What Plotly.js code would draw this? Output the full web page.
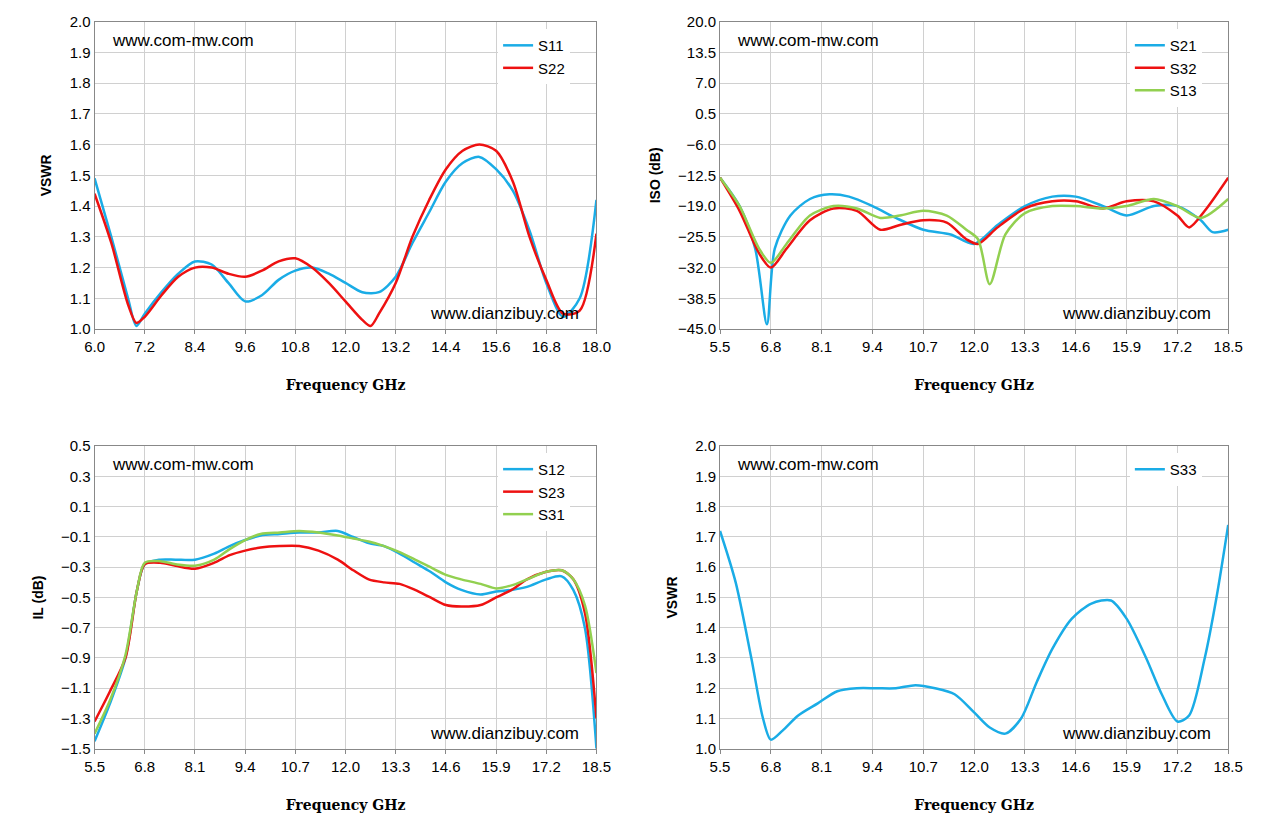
<!DOCTYPE html>
<html><head><meta charset="utf-8">
<script src="https://cdn.plot.ly/plotly-3.0.1.min.js"></script>
<style>body{margin:0}#myDiv{width:1261px;height:831px}</style>
</head><body><div id="myDiv"></div>
<script>
// panel 1: VSWR 6-18 GHz
var f1 = [6.0,6.4,6.8,7.0,7.2,7.6,8.0,8.4,8.8,9.2,9.6,10.0,10.4,10.8,11.2,11.6,12.0,12.4,12.8,13.2,13.6,14.0,14.4,14.8,15.2,15.6,16.0,16.4,16.8,17.2,17.6,18.0];
var s11 = [1.49,1.30,1.10,1.01,1.05,1.12,1.18,1.22,1.21,1.15,1.09,1.11,1.16,1.19,1.20,1.18,1.15,1.12,1.12,1.17,1.28,1.38,1.48,1.54,1.56,1.52,1.45,1.32,1.15,1.04,1.10,1.42];
var f22 = [6.0,6.4,6.8,7.0,7.2,7.6,8.0,8.4,8.8,9.2,9.6,10.0,10.4,10.8,11.2,11.6,12.0,12.4,12.6,12.8,13.2,13.6,14.0,14.4,14.8,15.2,15.6,16.0,16.4,16.8,17.2,17.6,18.0];
var s22 = [1.44,1.28,1.08,1.02,1.04,1.11,1.17,1.20,1.20,1.18,1.17,1.19,1.22,1.23,1.20,1.15,1.09,1.03,1.01,1.05,1.15,1.30,1.42,1.52,1.58,1.60,1.58,1.48,1.30,1.16,1.05,1.06,1.31];
// panel 2: isolation
var fs21 = [5.5,6.0,6.4,6.7,6.9,7.3,7.8,8.3,8.8,9.4,10.0,10.7,11.4,12.0,12.6,13.3,14.0,14.6,15.3,15.9,16.6,17.2,17.8,18.1,18.5];
var s21 = [-13,-19,-28,-44,-28,-21,-17.5,-16.5,-17,-19,-21.5,-24,-25,-27,-23,-19,-17,-17,-19,-21,-19,-19,-22,-24.5,-24];
var fs32 = [5.5,6.0,6.5,6.8,7.2,7.8,8.4,9.0,9.6,10.1,10.7,11.3,11.8,12.1,12.6,13.3,14.0,14.6,15.3,15.9,16.6,17.2,17.5,17.9,18.5];
var s32 = [-13,-20,-29,-32,-28,-22,-19.5,-20,-24,-23,-22,-22.5,-26,-27,-23.5,-19.5,-18,-18,-19.5,-18,-18,-21,-23.5,-20,-13];
var fs13 = [5.5,6.0,6.5,6.8,7.2,7.8,8.4,9.0,9.6,10.1,10.7,11.3,11.8,12.1,12.4,12.8,13.3,14.0,14.6,15.3,15.9,16.6,17.2,17.8,18.5];
var s13 = [-13,-19,-28,-31,-27,-21,-19,-19.5,-21.5,-21,-20,-21,-24,-26,-35.5,-25,-20.5,-19,-19,-19.5,-19,-17.5,-19,-21.5,-17.5];
// panel 3: insertion loss
var f3 = [5.5,5.9,6.3,6.6,6.8,7.2,7.6,8.1,8.6,9.0,9.4,9.8,10.3,10.8,11.3,11.8,12.2,12.6,13.0,13.4,13.8,14.2,14.6,15.0,15.5,15.9,16.3,16.7,17.2,17.6,17.9,18.2,18.5];
var s12 = [-1.45,-1.2,-0.9,-0.45,-0.28,-0.25,-0.25,-0.25,-0.21,-0.16,-0.12,-0.09,-0.08,-0.07,-0.07,-0.06,-0.1,-0.14,-0.16,-0.21,-0.27,-0.33,-0.4,-0.45,-0.48,-0.46,-0.45,-0.43,-0.38,-0.36,-0.45,-0.7,-1.5];
var s23 = [-1.32,-1.12,-0.9,-0.45,-0.28,-0.27,-0.29,-0.31,-0.27,-0.22,-0.19,-0.17,-0.16,-0.16,-0.19,-0.25,-0.32,-0.38,-0.4,-0.41,-0.45,-0.5,-0.55,-0.56,-0.55,-0.5,-0.45,-0.38,-0.33,-0.32,-0.38,-0.6,-1.3];
var s31 = [-1.4,-1.18,-0.88,-0.45,-0.27,-0.26,-0.28,-0.29,-0.25,-0.18,-0.12,-0.08,-0.07,-0.06,-0.07,-0.09,-0.11,-0.13,-0.16,-0.2,-0.25,-0.3,-0.35,-0.38,-0.41,-0.44,-0.42,-0.38,-0.33,-0.32,-0.38,-0.55,-1.0];
// panel 4: S33
var f4 = [5.5,5.9,6.3,6.6,6.8,7.1,7.5,8.0,8.5,9.0,9.5,10.0,10.5,11.0,11.5,12.0,12.4,12.8,13.2,13.6,14.0,14.5,15.0,15.5,15.9,16.4,16.8,17.2,17.5,17.9,18.2,18.5];
var s33 = [1.72,1.55,1.3,1.1,1.03,1.06,1.11,1.15,1.19,1.2,1.2,1.2,1.21,1.2,1.18,1.12,1.07,1.05,1.1,1.22,1.33,1.43,1.48,1.49,1.43,1.3,1.18,1.09,1.11,1.3,1.5,1.74];

var BLUE = '#1aace6', RED = '#ee1111', GREEN = '#92d050';
function tr(x, y, name, color, xa, ya, lg) {
  return {x: x, y: y, name: name, type: 'scatter', mode: 'lines', line: {color: color, width: 2.5, shape: 'spline', smoothing: 0.8},
          xaxis: xa, yaxis: ya, legend: lg};
}
var data = [
  tr(f1, s11, 'S11', BLUE, 'x', 'y', 'legend'),
  tr(f22, s22, 'S22', RED, 'x', 'y', 'legend'),
  tr(fs21, s21, 'S21', BLUE, 'x2', 'y2', 'legend2'),
  tr(fs32, s32, 'S32', RED, 'x2', 'y2', 'legend2'),
  tr(fs13, s13, 'S13', GREEN, 'x2', 'y2', 'legend2'),
  tr(f3, s12, 'S12', BLUE, 'x3', 'y3', 'legend3'),
  tr(f3, s23, 'S23', RED, 'x3', 'y3', 'legend3'),
  tr(f3, s31, 'S31', GREEN, 'x3', 'y3', 'legend3'),
  tr(f4, s33, 'S33', BLUE, 'x4', 'y4', 'legend4')
];

function xax(dom, anchor, r, d) {
  return {domain: dom, anchor: anchor, range: r, tick0: r[0], dtick: d, showgrid: true, gridcolor: '#d0d0d0',
          showline: true, linecolor: '#888', mirror: true, ticks: 'outside', ticklen: 4, tickcolor: '#888',
          tickformat: '.1f', zeroline: false,
          title: {text: 'Frequency GHz', font: {family: 'DejaVu Serif', size: 14, weight: 'bold'}, standoff: 26}};
}
function yax(dom, anchor, r, d, t) {
  return {domain: dom, anchor: anchor, range: r, tick0: r[0], dtick: d, showgrid: true, gridcolor: '#d0d0d0',
          showline: true, linecolor: '#888', mirror: true, zeroline: false, tickformat: '.1f',
          title: {text: t, font: {size: 14, weight: 'bold'}, standoff: 14}};
}
var X1 = [0.075, 0.473], X2 = [0.571, 0.974], Y1 = [0.604, 0.974], Y2 = [0.099, 0.463];
function lg(x, y) {
  return {x: x, y: y, xanchor: 'left', yanchor: 'top', bgcolor: 'white', font: {size: 15}, tracegroupgap: 4};
}
function note(xr, yr, x, y, t, xa) {
  return {xref: xr, yref: yr, x: x, y: y, text: t, showarrow: false, xanchor: xa, yanchor: 'middle', font: {size: 17}};
}
var layout = {
  width: 1261, height: 831, margin: {l: 0, r: 0, t: 0, b: 0},
  paper_bgcolor: 'white', plot_bgcolor: 'white',
  font: {family: 'Liberation Sans, Arial', size: 15, color: '#000'},
  xaxis: xax(X1, 'y', [6, 18], 1.2),
  yaxis: yax(Y1, 'x', [1, 2], 0.1, 'VSWR'),
  xaxis2: xax(X2, 'y2', [5.5, 18.5], 1.3),
  yaxis2: yax(Y1, 'x2', [-45, 20], 6.5, 'ISO (dB)'),
  xaxis3: xax(X1, 'y3', [5.5, 18.5], 1.3),
  yaxis3: yax(Y2, 'x3', [-1.5, 0.5], 0.2, 'IL (dB)'),
  xaxis4: xax(X2, 'y4', [5.5, 18.5], 1.3),
  yaxis4: yax(Y2, 'x4', [1, 2], 0.1, 'VSWR'),
  legend: lg(0.395, 0.965),
  legend2: lg(0.896, 0.965),
  legend3: lg(0.395, 0.455),
  legend4: lg(0.896, 0.455),
  annotations: [
    note('x domain', 'y domain', 0.03, 0.94, 'www.com-mw.com', 'left'),
    note('x domain', 'y domain', 0.97, 0.05, 'www.dianzibuy.com', 'right'),
    note('x2 domain', 'y2 domain', 0.03, 0.94, 'www.com-mw.com', 'left'),
    note('x2 domain', 'y2 domain', 0.97, 0.05, 'www.dianzibuy.com', 'right'),
    note('x3 domain', 'y3 domain', 0.03, 0.94, 'www.com-mw.com', 'left'),
    note('x3 domain', 'y3 domain', 0.97, 0.05, 'www.dianzibuy.com', 'right'),
    note('x4 domain', 'y4 domain', 0.03, 0.94, 'www.com-mw.com', 'left'),
    note('x4 domain', 'y4 domain', 0.97, 0.05, 'www.dianzibuy.com', 'right')
  ]
};
Plotly.newPlot('myDiv', data, layout, {displayModeBar: false});
</script>
</body></html>
